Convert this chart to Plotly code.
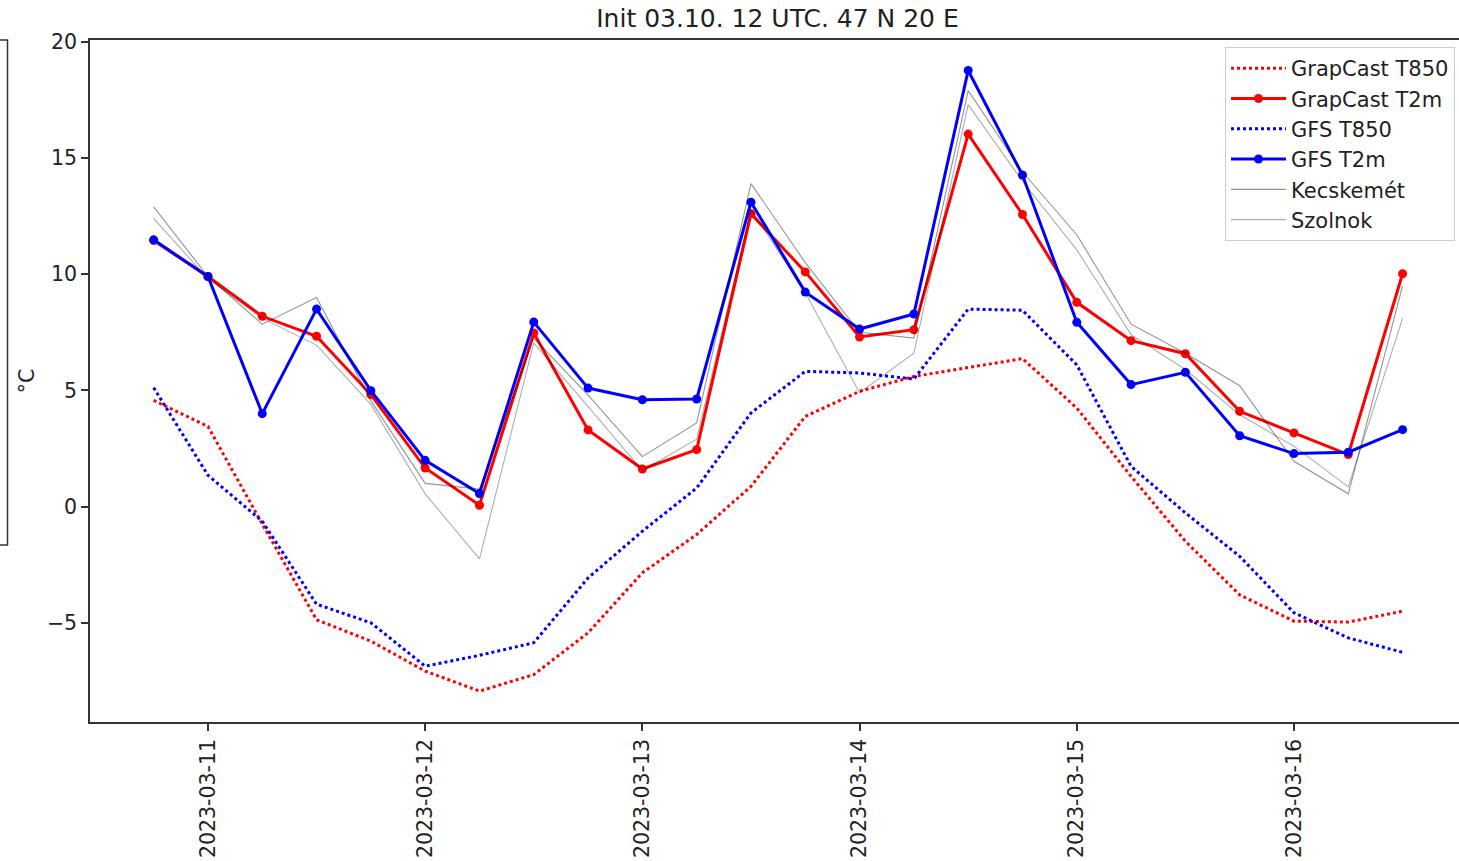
import pandas as pd
import plotly.graph_objects as go

# 6-hourly valid times of the forecast run (init 2023-03-10 12 UTC)
times = pd.date_range("2023-03-10 18:00", periods=24, freq="6h")

graphcast_t850 = [4.57, 3.45, -0.75, -4.87, -5.79, -7.08, -7.94, -7.23, -5.43, -2.85, -1.2, 0.87,
                  3.88, 4.96, 5.6, 6.0, 6.37, 4.24, 1.3, -1.49, -3.8, -4.93, -4.97, -4.5]
graphcast_t2m = [11.45, 9.9, 8.19, 7.33, 4.82, 1.66, 0.06, 7.47, 3.3, 1.62, 2.45, 12.6,
                 10.1, 7.3, 7.61, 16.03, 12.57, 8.79, 7.14, 6.58, 4.1, 3.17, 2.24, 10.02]
gfs_t850 = [5.12, 1.35, -0.63, -4.2, -5.0, -6.87, -6.4, -5.86, -3.07, -1.06, 0.8, 4.03,
            5.82, 5.75, 5.49, 8.5, 8.45, 6.1, 1.73, -0.27, -2.14, -4.57, -5.65, -6.27]
gfs_t2m = [11.48, 9.9, 4.0, 8.5, 4.99, 1.99, 0.56, 7.94, 5.1, 4.6, 4.63, 13.1,
           9.23, 7.64, 8.29, 18.77, 14.27, 7.93, 5.25, 5.78, 3.05, 2.28, 2.34, 3.31]
kecskemet = [12.9, 9.9, 7.85, 9.0, 4.55, 1.0, 0.75, 7.25, 4.8, 2.15, 3.6, 13.9,
             10.5, 7.5, 7.25, 17.9, 14.4, 11.7, 7.85, 6.6, 5.2, 1.95, 0.55, 9.5]
szolnok = [12.4, 9.8, 8.1, 6.95, 4.4, 0.55, -2.25, 7.05, 4.3, 1.55, 2.9, 12.8,
           9.2, 4.9, 6.6, 17.3, 14.0, 11.05, 7.4, 5.9, 3.95, 2.6, 0.85, 8.1]

tick_dates = ["2023-03-11", "2023-03-12", "2023-03-13", "2023-03-14", "2023-03-15", "2023-03-16"]

FONT = "DejaVu Sans"
W, H = 1459, 861
ML, MT, MB = 90, 40, 139
plot_w = W - ML
plot_h = H - MT - MB

fig = go.Figure()
fig.add_trace(go.Scatter(x=times, y=graphcast_t850, mode="lines", name="GrapCast T850",
                         line=dict(color="#ff0000", width=3, dash="dot")))
fig.add_trace(go.Scatter(x=times, y=graphcast_t2m, mode="lines+markers", name="GrapCast T2m",
                         line=dict(color="#ff0000", width=3), marker=dict(size=9, color="#ff0000")))
fig.add_trace(go.Scatter(x=times, y=gfs_t850, mode="lines", name="GFS T850",
                         line=dict(color="#0000ff", width=3, dash="dot")))
fig.add_trace(go.Scatter(x=times, y=gfs_t2m, mode="lines+markers", name="GFS T2m",
                         line=dict(color="#0000ff", width=3), marker=dict(size=9, color="#0000ff")))
fig.add_trace(go.Scatter(x=times, y=kecskemet, mode="lines", name="Kecskemét",
                         line=dict(color="rgba(0,0,0,0.42)", width=1.1)))
fig.add_trace(go.Scatter(x=times, y=szolnok, mode="lines", name="Szolnok",
                         line=dict(color="rgba(0,0,0,0.32)", width=1.1)))


def px_x(p):
    return (p - ML) / plot_w


def px_y(p):
    return 1 - (p - MT) / plot_h


# edge of the neighbouring panel frame on the far left
fig.add_shape(type="path", xref="paper", yref="paper",
              path=f"M {px_x(0)} {px_y(40)} L {px_x(7.5)} {px_y(40)} L {px_x(7.5)} {px_y(545)} L {px_x(0)} {px_y(545)}",
              line=dict(color="#333333", width=1.5))

fig.update_layout(
    width=W, height=H,
    margin=dict(l=ML, r=0, t=MT, b=MB),
    paper_bgcolor="white", plot_bgcolor="white",
    font=dict(family=FONT, size=20.5, color="#222222"),
    title=dict(text="Init 03.10. 12 UTC. 47 N 20 E", font=dict(size=25, color="#222222"),
               x=px_x(777.5), xref="paper", xanchor="center",
               y=1 - 18 / H, yref="container", yanchor="middle"),
    showlegend=True,
    legend=dict(x=px_x(1455), xanchor="right", y=px_y(47), yanchor="top",
                bgcolor="white", bordercolor="#cccccc", borderwidth=1,
                font=dict(size=21, color="#222222"), itemwidth=55,
                tracegroupgap=0),
)

fig.update_xaxes(
    type="date",
    range=["2023-03-10 10:58", "2023-03-16 18:14"],
    tickmode="array", tickvals=tick_dates, ticktext=tick_dates,
    tickangle=-90, ticks="outside", ticklen=7, tickwidth=1.5, tickcolor="#333333",
    showgrid=False, zeroline=False,
    showline=True, linecolor="#333333", linewidth=1.5, mirror=True,
    tickfont=dict(size=20.5, family=FONT, color="#222222"),
)
fig.update_yaxes(
    range=[-9.27, 20.08],
    tickmode="array", tickvals=[-5, 0, 5, 10, 15, 20],
    ticks="outside", ticklen=7, tickwidth=1.5, tickcolor="#333333",
    showgrid=False, zeroline=False,
    showline=True, linecolor="#333333", linewidth=1.5, mirror=False,
    tickfont=dict(size=20.5, family=FONT, color="#222222"),
    title=dict(text="°C", font=dict(size=20.5, family=FONT, color="#222222"), standoff=7),
)

fig.write_html("out.html")
